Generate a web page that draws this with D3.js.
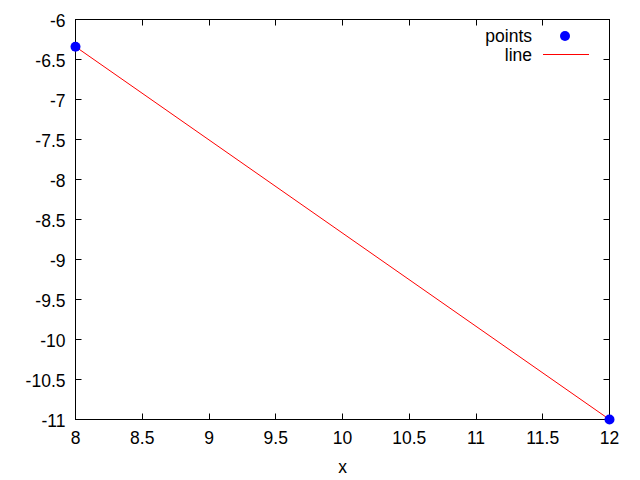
<!DOCTYPE html>
<html>
<head>
<meta charset="utf-8">
<script src="https://cdn.jsdelivr.net/npm/d3@7"></script>
<style>
  body { margin: 0; background: #fff; }
  text { font-family: "Liberation Sans", Arial, sans-serif; font-size: 17.5px; fill: #000; }
</style>
</head>
<body>
<div id="chart"></div>
<script>
// data
const pointsX = [8, 12]
const pointsY = [-6.34, -11]
const lineX = [8, 12]
const lineY = [-6.34, -11]
const xTicks = [8, 8.5, 9, 9.5, 10, 10.5, 11, 11.5, 12]
const yTicks = [-11, -10.5, -10, -9.5, -9, -8.5, -8, -7.5, -7, -6.5, -6]
const legendLabels = ["points", "line"]

const width = 640
const height = 480
const mLeft = 75.5, mRight = 609.5, mTop = 19.5, mBottom = 419.5

const x = d3.scaleLinear().domain([8, 12]).range([mLeft, mRight])
const y = d3.scaleLinear().domain([-11, -6]).range([mBottom, mTop])

const svg = d3.select('#chart')
  .append('svg')
  .attr('width', width)
  .attr('height', height)

// ticks (inward, mirrored)
const tickLen = 6
const g = svg.append('g').attr('stroke', '#000').attr('stroke-width', 1)
xTicks.forEach(t => {
  const px = Math.round(x(t) - 0.5) + 0.5
  g.append('line').attr('x1', px).attr('x2', px).attr('y1', mBottom).attr('y2', mBottom - tickLen)
  g.append('line').attr('x1', px).attr('x2', px).attr('y1', mTop).attr('y2', mTop + tickLen)
})
yTicks.forEach(t => {
  const py = Math.round(y(t) - 0.5) + 0.5
  g.append('line').attr('x1', mLeft).attr('x2', mLeft + tickLen).attr('y1', py).attr('y2', py)
  g.append('line').attr('x1', mRight).attr('x2', mRight - tickLen).attr('y1', py).attr('y2', py)
})

svg.selectAll('.xt')
  .data(xTicks)
  .enter()
  .append('text')
  .attr('x', d => x(d))
  .attr('y', 444)
  .attr('text-anchor', 'middle')
  .text(d => d)

svg.selectAll('.yt')
  .data(yTicks)
  .enter()
  .append('text')
  .attr('x', 65.5)
  .attr('y', d => y(d) + 7)
  .attr('text-anchor', 'end')
  .text(d => d)

svg.append('text').attr('x', 342.5).attr('y', 473).attr('text-anchor', 'middle').text('x')

// line series
const lineData = lineX.map((v, i) => [v, lineY[i]])
svg.append('path')
  .datum(lineData)
  .attr('d', d3.line().x(d => x(d[0])).y(d => y(d[1])))
  .attr('fill', 'none')
  .attr('stroke', '#ff0000')
  .attr('stroke-width', 1)

// border
svg.append('rect')
  .attr('x', mLeft).attr('y', mTop)
  .attr('width', mRight - mLeft).attr('height', mBottom - mTop)
  .attr('fill', 'none').attr('stroke', '#000').attr('stroke-width', 1)

// points
svg.selectAll('.pt')
  .data(pointsX.map((v, i) => [v, pointsY[i]]))
  .enter()
  .append('circle')
  .attr('cx', d => x(d[0]))
  .attr('cy', d => y(d[1]))
  .attr('r', 5)
  .attr('fill', '#0000ff')

// legend
svg.append('text').attr('x', 532).attr('y', 41.5).attr('text-anchor', 'end').text(legendLabels[0])
svg.append('circle').attr('cx', 565).attr('cy', 36).attr('r', 5).attr('fill', '#0000ff')
svg.append('text').attr('x', 532).attr('y', 60.5).attr('text-anchor', 'end').text(legendLabels[1])
svg.append('line').attr('x1', 543).attr('x2', 589).attr('y1', 54.5).attr('y2', 54.5)
  .attr('stroke', '#ff0000').attr('stroke-width', 1)
</script>
</body>
</html>
